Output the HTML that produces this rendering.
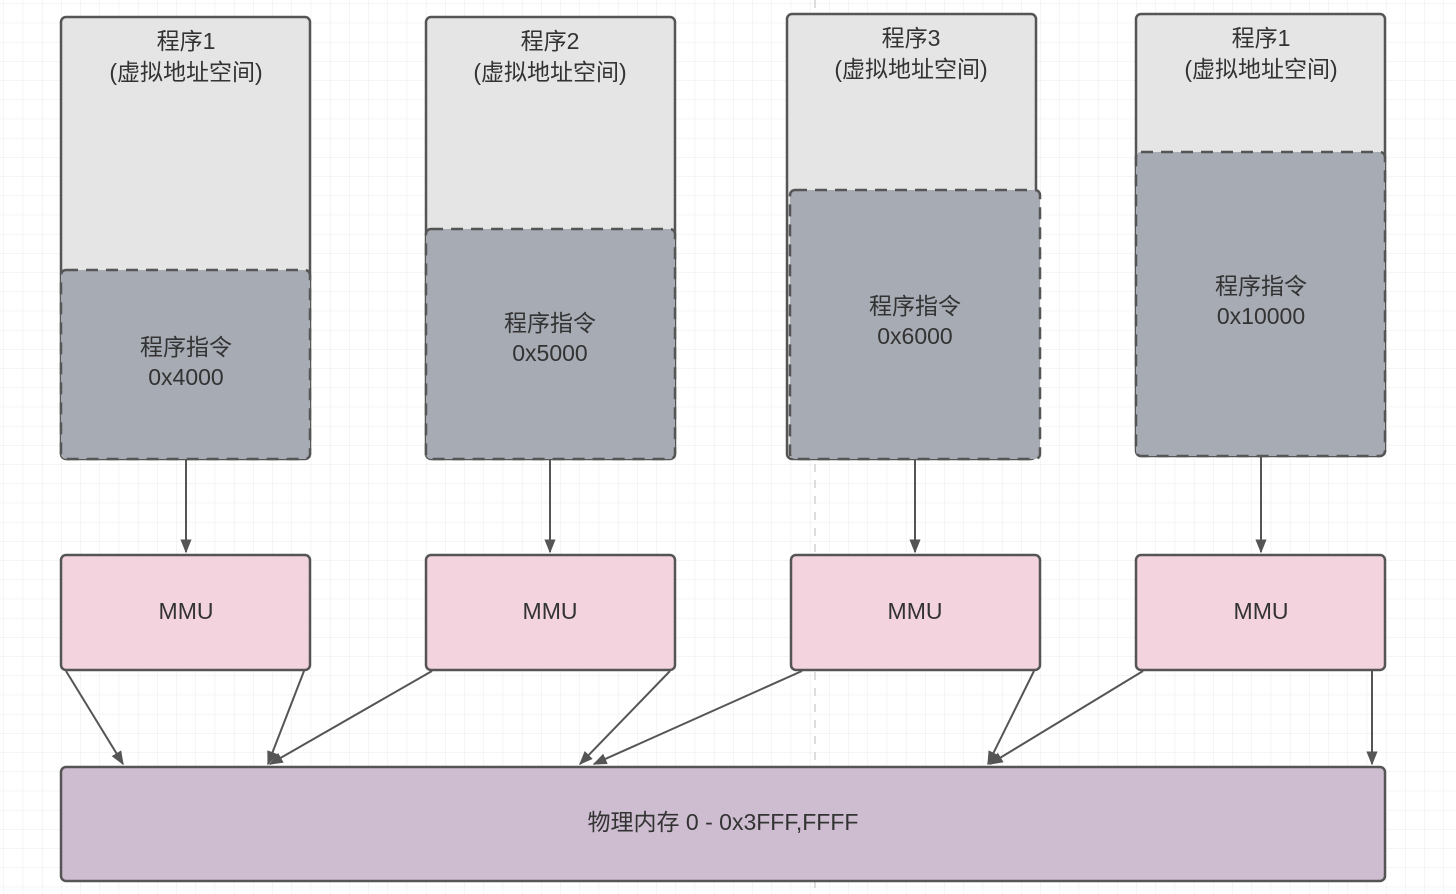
<!DOCTYPE html>
<html><head><meta charset="utf-8"><style>
html,body{margin:0;padding:0;background:#fff;}
svg{display:block;}
text{font-family:"Liberation Sans","Noto Sans CJK SC",sans-serif;fill:#333;font-size:23px;text-anchor:middle;}
</style></head><body>
<svg width="1456" height="894" viewBox="0 0 1456 894" xmlns="http://www.w3.org/2000/svg">
<defs>
<pattern id="g" width="19.2" height="19.2" patternUnits="userSpaceOnUse" x="4" y="4">
<path d="M19.2 0V19.2M0 19.2H19.2" stroke="#ebebeb" stroke-width="1" fill="none"/>
</pattern>
<marker id="a" viewBox="0 0 10 10" refX="9" refY="5" markerWidth="7" markerHeight="7" orient="auto">
<path d="M0 1L10 5L0 9z" fill="#555"/>
</marker>
</defs>
<rect width="1456" height="894" fill="url(#g)"/>
<line x1="815" y1="0" x2="815" y2="894" stroke="#ddd" stroke-width="2" stroke-dasharray="8,8"/>

<g stroke="#555" stroke-width="2.5">
<rect x="61" y="17" width="249" height="442" rx="5" fill="#e5e5e5"/>
<rect x="61" y="270" width="249" height="189" rx="5" fill="#a7abb4" stroke-dasharray="12,8"/>
<rect x="426" y="17" width="249" height="442" rx="5" fill="#e5e5e5"/>
<rect x="426" y="229" width="249" height="230" rx="5" fill="#a7abb4" stroke-dasharray="12,8"/>
<rect x="787" y="14" width="249" height="445" rx="5" fill="#e5e5e5"/>
<rect x="790" y="190" width="250" height="269" rx="5" fill="#a7abb4" stroke-dasharray="12,8"/>
<rect x="1136" y="14" width="249" height="442" rx="5" fill="#e5e5e5"/>
<rect x="1136" y="152" width="249" height="304" rx="5" fill="#a7abb4" stroke-dasharray="12,8"/>

<rect x="61" y="555" width="249" height="115" rx="5" fill="#f3d3de"/>
<rect x="426" y="555" width="249" height="115" rx="5" fill="#f3d3de"/>
<rect x="791" y="555" width="249" height="115" rx="5" fill="#f3d3de"/>
<rect x="1136" y="555" width="249" height="115" rx="5" fill="#f3d3de"/>

<rect x="61" y="767" width="1324" height="114" rx="5" fill="#cebdd0"/>
</g>

<g stroke="#555" stroke-width="2" marker-end="url(#a)">
<line x1="186" y1="460" x2="186" y2="552"/>
<line x1="550" y1="460" x2="550" y2="552"/>
<line x1="915" y1="460" x2="915" y2="552"/>
<line x1="1261" y1="457" x2="1261" y2="552"/>
<line x1="66" y1="671" x2="123" y2="764"/>
<line x1="304" y1="671" x2="268" y2="764"/>
<line x1="432" y1="671" x2="270" y2="764"/>
<line x1="670" y1="671" x2="580" y2="764"/>
<line x1="802" y1="671" x2="594" y2="764"/>
<line x1="1034" y1="671" x2="988" y2="764"/>
<line x1="1143" y1="671" x2="990" y2="764"/>
<line x1="1372" y1="671" x2="1372" y2="764"/>
</g>

<text x="186" y="49">程序1</text><text x="186" y="80">(虚拟地址空间)</text>
<text x="186" y="355">程序指令</text><text x="186" y="385">0x4000</text>
<text x="550" y="49">程序2</text><text x="550" y="80">(虚拟地址空间)</text>
<text x="550" y="331">程序指令</text><text x="550" y="361">0x5000</text>
<text x="911" y="46">程序3</text><text x="911" y="77">(虚拟地址空间)</text>
<text x="915" y="314">程序指令</text><text x="915" y="344">0x6000</text>
<text x="1261" y="46">程序1</text><text x="1261" y="77">(虚拟地址空间)</text>
<text x="1261" y="294">程序指令</text><text x="1261" y="324">0x10000</text>

<text x="186" y="619">MMU</text>
<text x="550" y="619">MMU</text>
<text x="915" y="619">MMU</text>
<text x="1261" y="619">MMU</text>
<text x="723" y="830">物理内存 0 - 0x3FFF,FFFF</text>
</svg>
</body></html>
